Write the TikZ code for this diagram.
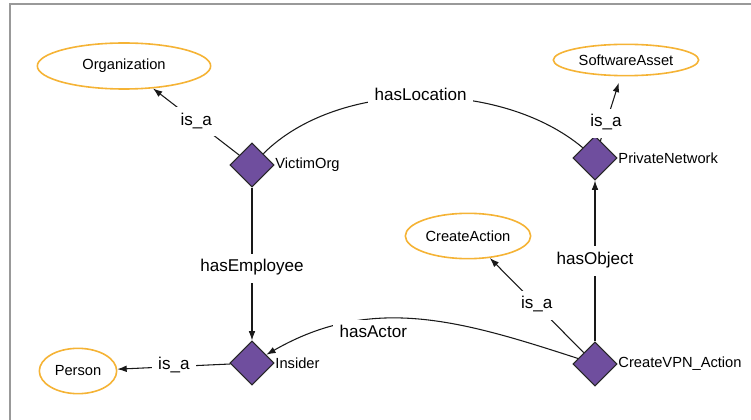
\documentclass[tikz,border=0pt]{standalone}
\usepackage{fontspec}
\setmainfont{Liberation Sans}
\usetikzlibrary{shapes.geometric,arrows.meta}
\definecolor{instPurple}{HTML}{6F4E9E}
\definecolor{classOrange}{HTML}{F5B335}
\definecolor{frameGray}{HTML}{999999}

\begin{document}
\begin{tikzpicture}[x=0.75pt,y=0.75pt,
    classNode/.style={ellipse, draw=classOrange, line width=1.2pt, inner sep=0pt, font=\fontsize{11}{13}\selectfont},
    instNode/.style={diamond, draw=black!85, fill=instPurple, line width=0.8pt, minimum width=33pt, minimum height=33pt, inner sep=0pt},
    instName/.style={anchor=west, inner sep=0.5pt, font=\fontsize{11}{13}\selectfont},
    relLabel/.style={fill=white, inner xsep=5pt, inner ysep=6pt, text height=0.75em, text depth=0.25em, font=\fontsize{12.8}{15}\selectfont},
    rel/.style={draw=black!90, line width=0.8pt, >={Latex[length=7pt,width=5pt]}}]
    \useasboundingbox (0,0) rectangle (751,-420);
    %% frame of the canvas, cut at right and bottom
    \draw[frameGray, line width=1.5pt] (9.5,-420) -- (9.5,-4) -- (751,-4);

    %% classes
    \node[classNode, minimum width=130pt, minimum height=34.5pt] (organization) at (124,-66) {Organization};
    \node[classNode, minimum width=109pt, minimum height=23.5pt] (softwareAsset) at (626,-60) {SoftwareAsset};
    \node[classNode, minimum width=94pt, minimum height=34pt] (createAction) at (468,-236) {CreateAction};
    \node[classNode, minimum width=58pt, minimum height=34pt] (person) at (78,-371) {Person};

    %% instances
    \node[instNode, label={[instName]east:VictimOrg}] (victimOrg) at (252,-165) {};
    \node[instNode, label={[instName]east:PrivateNetwork}] (privateNetwork) at (595,-158) {};
    \node[instNode, label={[instName]east:Insider}] (insider) at (252,-363) {};
    \node[instNode, label={[instName]east:CreateVPN\_Action}] (createVPN) at (595,-364) {};

    \draw[rel,->] (victimOrg) -- node[relLabel]{is\_a} (organization);
    \draw[rel,->,shorten >=5pt] (privateNetwork) -- node[relLabel,pos=0.27]{is\_a} (softwareAsset);
    \draw[rel,->] (insider) -- node[relLabel]{is\_a} (person);
    \draw[rel,->] (createVPN) -- node[relLabel]{is\_a} (createAction);
    \draw[rel] (victimOrg) to[out=45,in=140,looseness=0.85] node[relLabel]{hasLocation} (privateNetwork);
    \draw[rel,->] (victimOrg) -- node[relLabel,pos=0.53]{hasEmployee} (insider);
    \draw[rel,->] (createVPN) -- node[relLabel]{hasObject} (privateNetwork);
    \draw[rel,->] (createVPN) to[out=162,in=30] node[relLabel,pos=0.65,yshift=-11pt]{hasActor} (insider);
\end{tikzpicture}
\end{document}
